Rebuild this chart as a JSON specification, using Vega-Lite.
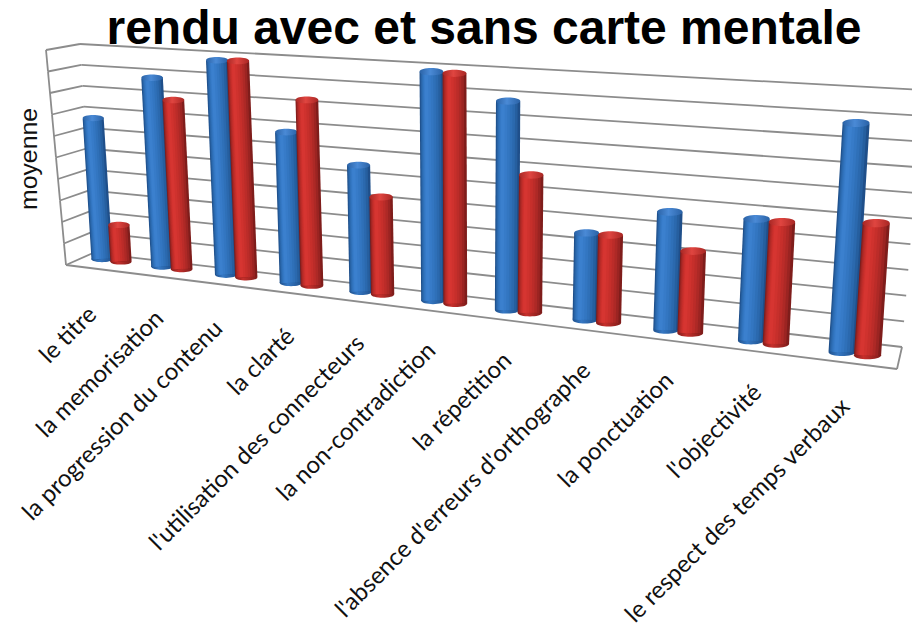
{
"$schema":"https://vega.github.io/schema/vega-lite/v6.json",
"width":912,"height":627,"padding":0,"autosize":{"type":"none"},"background":"white",
"config":{"view":{"stroke":null}},
"title":{"text":"rendu avec et sans carte mentale","font":"Liberation Sans","fontWeight":"bold","fontSize":48,"color":"#000000","anchor":"middle","frame":"group","dx":28,"dy":58},
"datasets":{
"niveaux":[{"niveau":0},{"niveau":1},{"niveau":2},{"niveau":3},{"niveau":4},{"niveau":5},{"niveau":6},{"niveau":7},{"niveau":8},{"niveau":9},{"niveau":10}],
"scores":[
{"critere":"le titre","rang":0,"serie":"avec","moyenne":6.6},
{"critere":"le titre","rang":0,"serie":"sans","moyenne":1.7},
{"critere":"la memorisation","rang":1,"serie":"avec","moyenne":8.69},
{"critere":"la memorisation","rang":1,"serie":"sans","moyenne":7.74},
{"critere":"la progression du contenu","rang":2,"serie":"avec","moyenne":9.7},
{"critere":"la progression du contenu","rang":2,"serie":"sans","moyenne":9.73},
{"critere":"la clarté","rang":3,"serie":"avec","moyenne":6.7},
{"critere":"la clarté","rang":3,"serie":"sans","moyenne":8.2},
{"critere":"l'utilisation des connecteurs","rang":4,"serie":"avec","moyenne":5.52},
{"critere":"l'utilisation des connecteurs","rang":4,"serie":"sans","moyenne":4.22},
{"critere":"la non-contradiction","rang":5,"serie":"avec","moyenne":9.81},
{"critere":"la non-contradiction","rang":5,"serie":"sans","moyenne":9.8},
{"critere":"la répetition","rang":6,"serie":"avec","moyenne":8.78},
{"critere":"la répetition","rang":6,"serie":"sans","moyenne":5.76},
{"critere":"l'absence d'erreurs d'orthographe","rang":7,"serie":"avec","moyenne":3.58},
{"critere":"l'absence d'erreurs d'orthographe","rang":7,"serie":"sans","moyenne":3.59},
{"critere":"la ponctuation","rang":8,"serie":"avec","moyenne":4.77},
{"critere":"la ponctuation","rang":8,"serie":"sans","moyenne":3.29},
{"critere":"l'objectivité","rang":9,"serie":"avec","moyenne":4.82},
{"critere":"l'objectivité","rang":9,"serie":"sans","moyenne":4.79},
{"critere":"le respect des temps verbaux","rang":10,"serie":"avec","moyenne":8.88},
{"critere":"le respect des temps verbaux","rang":10,"serie":"sans","moyenne":5.09}
]},
"layer":[
{"data":{"name":"niveaux"},
"transform":[
{"calculate":"datum.niveau/10","as":"t"},
{"calculate":"66-20*datum.t","as":"xo"},{"calculate":"265-215*datum.t","as":"yo"},
{"calculate":"datum.xo-2","as":"xo2"},{"calculate":"datum.yo-21.5","as":"yo2"},
{"calculate":"93-13*datum.t","as":"xi"},{"calculate":"253-209*datum.t","as":"yi"},
{"calculate":"902+21*datum.t","as":"xr"},{"calculate":"347-257*datum.t","as":"yr"},
{"calculate":"66","as":"fx"},{"calculate":"265","as":"fy"},{"calculate":"897","as":"gx"},{"calculate":"369","as":"gy"},{"calculate":"902","as":"hx"},{"calculate":"347","as":"hy"},
{"calculate":"37","as":"mx"},{"calculate":"159","as":"my"},{"calculate":"'moyenne'","as":"mt"}
],
"layer":[
{"mark":{"type":"rule","color":"#8c8c8c","strokeWidth":1.8},
"encoding":{"x":{"field":"xo","type":"quantitative","scale":{"domain":[0,912],"nice":false,"zero":false},"axis":null},
"y":{"field":"yo","type":"quantitative","scale":{"domain":[627,0],"nice":false,"zero":false},"axis":null},
"x2":{"field":"xi"},"y2":{"field":"yi"}}},
{"mark":{"type":"rule","color":"#8c8c8c","strokeWidth":1.8},
"encoding":{"x":{"field":"xi","type":"quantitative","axis":null},"y":{"field":"yi","type":"quantitative","axis":null},"x2":{"field":"xr"},"y2":{"field":"yr"}}},
{"transform":[{"filter":"datum.niveau<10"}],"mark":{"type":"rule","color":"#8c8c8c","strokeWidth":1.8},
"encoding":{"x":{"field":"xo","type":"quantitative","axis":null},"y":{"field":"yo","type":"quantitative","axis":null},"x2":{"field":"xo2"},"y2":{"field":"yo2"}}},
{"transform":[{"filter":"datum.niveau==0"}],"mark":{"type":"rule","color":"#8c8c8c","strokeWidth":1.8},
"encoding":{"x":{"field":"fx","type":"quantitative","axis":null},"y":{"field":"fy","type":"quantitative","axis":null},"x2":{"field":"gx"},"y2":{"field":"gy"}}},
{"transform":[{"filter":"datum.niveau==0"}],"mark":{"type":"rule","color":"#8c8c8c","strokeWidth":1.8},
"encoding":{"x":{"field":"gx","type":"quantitative","axis":null},"y":{"field":"gy","type":"quantitative","axis":null},"x2":{"field":"hx"},"y2":{"field":"hy"}}},
{"transform":[{"filter":"datum.niveau==0"}],"mark":{"type":"text","angle":270,"align":"center","baseline":"alphabetic","font":"Liberation Sans","fontSize":24.8,"color":"#111111"},
"encoding":{"x":{"field":"mx","type":"quantitative","axis":null},"y":{"field":"my","type":"quantitative","axis":null},"text":{"field":"mt"}}}
]},
{"data":{"name":"scores"},
"transform":[
{"calculate":"[102,162,226,291,361,433,507,585,666,751,842][datum.rang]+(datum.serie=='sans'?19+0.65*datum.rang:0)","as":"xb"},
{"calculate":"259+0.1257*(datum.xb-102)","as":"yb"},
{"calculate":"datum.moyenne*(21.3+(datum.xb-93)*0.006)","as":"h"},
{"calculate":"datum.yb-datum.h","as":"yt"},
{"calculate":"datum.xb-(475-datum.xb)*0.000168*datum.h","as":"xt"},
{"calculate":"21+(datum.xb-93)*0.0079","as":"w"},
{"calculate":"datum.w*datum.w","as":"s"},
{"calculate":"[0,1,2,3,4,5,6]","as":"shade"}
],
"layer":[
{"transform":[{"filter":"datum.serie=='avec'"}],
"mark":{"type":"point","filled":true,"opacity":1,"strokeWidth":0,"shape":"M-1,0C-1,-0.4,1,-0.4,1,0C1,0.4,-1,0.4,-1,0Z","fill":{"gradient":"linear","x1":0,"y1":0,"x2":1,"y2":0,"stops":[{"offset":0,"color":"#1f4f8a"},{"offset":0.35,"color":"#3578c4"},{"offset":1,"color":"#1f4f8a"}]}},
"encoding":{"x":{"field":"xb","type":"quantitative","axis":null},"y":{"field":"yb","type":"quantitative","axis":null},"size":{"field":"s","type":"quantitative","scale":null}}},
{"transform":[{"filter":"datum.serie=='avec'"},{"flatten":["shade"]},{"calculate":"datum.serie+datum.shade","as":"teinte"},{"calculate":"datum.w*(1-datum.shade/7)","as":"lw"},{"calculate":"-datum.shade*0.035*datum.w","as":"dx"},{"calculate":"datum.xb+datum.dx","as":"x1"},{"calculate":"datum.xt+datum.dx","as":"x2"}],
"mark":{"type":"rule"},
"encoding":{"x":{"field":"x1","type":"quantitative","axis":null},"y":{"field":"yb","type":"quantitative","axis":null},"x2":{"field":"x2"},"y2":{"field":"yt"},"size":{"field":"lw","type":"quantitative","scale":null},
"color":{"field":"teinte","type":"nominal","legend":null,"scale":{"domain":["avec0","avec1","avec2","avec3","avec4","avec5","avec6","sans0","sans1","sans2","sans3","sans4","sans5","sans6"],"range":["#1f4f8a","#265f9f","#2b69ae","#2f70b8","#3376c1","#377bc8","#3b80ce","#7f1d1b","#9b2422","#ad2926","#bb2c29","#c62f2b","#cf322e","#d63531"]}}}},
{"transform":[{"filter":"datum.serie=='avec'"}],
"mark":{"type":"point","filled":true,"opacity":1,"strokeWidth":0,"shape":"M-1,0C-1,-0.4,1,-0.4,1,0C1,0.4,-1,0.4,-1,0Z","fill":{"gradient":"linear","x1":0,"y1":0,"x2":1,"y2":0,"stops":[{"offset":0,"color":"#2a62a6"},{"offset":0.45,"color":"#4a8ad6"},{"offset":1,"color":"#2a62a6"}]}},
"encoding":{"x":{"field":"xt","type":"quantitative","axis":null},"y":{"field":"yt","type":"quantitative","axis":null},"size":{"field":"s","type":"quantitative","scale":null}}},
{"transform":[{"filter":"datum.serie=='sans'"}],
"mark":{"type":"point","filled":true,"opacity":1,"strokeWidth":0,"shape":"M-1,0C-1,-0.4,1,-0.4,1,0C1,0.4,-1,0.4,-1,0Z","fill":{"gradient":"linear","x1":0,"y1":0,"x2":1,"y2":0,"stops":[{"offset":0,"color":"#7f1d1b"},{"offset":0.35,"color":"#c62f2b"},{"offset":1,"color":"#7f1d1b"}]}},
"encoding":{"x":{"field":"xb","type":"quantitative","axis":null},"y":{"field":"yb","type":"quantitative","axis":null},"size":{"field":"s","type":"quantitative","scale":null}}},
{"transform":[{"filter":"datum.serie=='sans'"},{"flatten":["shade"]},{"calculate":"datum.serie+datum.shade","as":"teinte"},{"calculate":"datum.w*(1-datum.shade/7)","as":"lw"},{"calculate":"-datum.shade*0.035*datum.w","as":"dx"},{"calculate":"datum.xb+datum.dx","as":"x1"},{"calculate":"datum.xt+datum.dx","as":"x2"}],
"mark":{"type":"rule"},
"encoding":{"x":{"field":"x1","type":"quantitative","axis":null},"y":{"field":"yb","type":"quantitative","axis":null},"x2":{"field":"x2"},"y2":{"field":"yt"},"size":{"field":"lw","type":"quantitative","scale":null},
"color":{"field":"teinte","type":"nominal","legend":null}}},
{"transform":[{"filter":"datum.serie=='sans'"}],
"mark":{"type":"point","filled":true,"opacity":1,"strokeWidth":0,"shape":"M-1,0C-1,-0.4,1,-0.4,1,0C1,0.4,-1,0.4,-1,0Z","fill":{"gradient":"linear","x1":0,"y1":0,"x2":1,"y2":0,"stops":[{"offset":0,"color":"#a82724"},{"offset":0.45,"color":"#e04540"},{"offset":1,"color":"#a82724"}]}},
"encoding":{"x":{"field":"xt","type":"quantitative","axis":null},"y":{"field":"yt","type":"quantitative","axis":null},"size":{"field":"s","type":"quantitative","scale":null}}},
{"transform":[{"filter":"datum.serie=='avec'"},
{"calculate":"[93,160,219,291,361,432,508,587,670,758,846][datum.rang]","as":"lx"},
{"calculate":"[311,315,325,333,340,347,357,367,377,389,403][datum.rang]","as":"ly"}],
"mark":{"type":"text","angle":315,"align":"right","baseline":"middle","font":"Lato","fontSize":24,"color":"#111111"},
"encoding":{"x":{"field":"lx","type":"quantitative","axis":null},"y":{"field":"ly","type":"quantitative","axis":null},"text":{"field":"critere"}}}
]}
]
}
